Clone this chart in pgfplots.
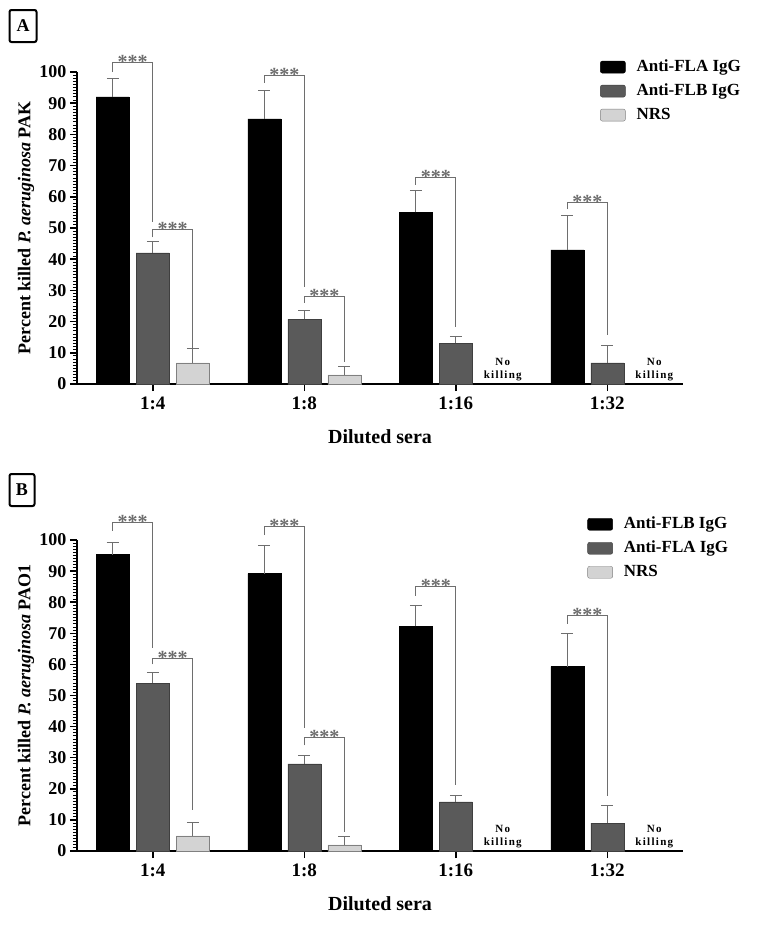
\documentclass[border=0pt]{standalone}
\usepackage{pgfplots}
\pgfplotsset{compat=1.18}
\usepackage{fontspec}
\setmainfont{Liberation Serif}

\definecolor{dkgray}{HTML}{5A5A5A}
\definecolor{ltgray}{HTML}{D3D3D3}
\definecolor{brk}{HTML}{6E6E6E}

\newcommand{\fs}[1]{\fontsize{#1}{#1}\selectfont\bfseries}

% bracket: x, left shift, right shift, left leg end, top, right leg end, mid shift
\newcommand{\sigbr}[7]{%
  \draw[brk, line width=1pt] ([xshift=#2]axis cs:#1,#4) -- ([xshift=#2]axis cs:#1,#5)
     -- ([xshift=#3]axis cs:#1,#5) -- ([xshift=#3]axis cs:#1,#6);
  \node[brk, font=\fs{20}, anchor=base, inner sep=0pt] at ([xshift=#7, yshift=-6pt]axis cs:#1,#5) {***};
}
\newcommand{\nokill}[1]{%
  \node[font=\fontsize{11}{13}\selectfont\bfseries\addfontfeatures{LetterSpace=12}, align=center,
        anchor=south, inner sep=0pt] at ([xshift=47pt, yshift=3pt]axis cs:#1,0) {No\\killing};
}

\pgfplotsset{
  sw/.style={legend image code/.code={\draw[##1, rounded corners=2pt] (0pt,-6pt) rectangle (25pt,6pt);}},
  killplot/.style={
    scale only axis, width=606pt, height=312pt,
    ybar=7pt, bar width=33pt,
    xmin=-0.5, xmax=3.5, ymin=0, ymax=100,
    axis lines=left, axis line style={line width=1.6pt,-},
    xtick={0,1,2,3}, xticklabels={1:4,1:8,1:16,1:32},
    ytick={0,10,...,100}, minor y tick num=9,
    tick align=outside, major tick length=7pt, minor tick length=4pt,
    every major tick/.append style={line width=1.5pt, black},
    every minor tick/.append style={line width=1pt, black},
    x tick label style={font=\fs{19}, yshift=-2pt},
    y tick label style={font=\fs{18}},
    /pgf/number format/assume math mode=true,
    xlabel={Diluted sera},
    xlabel style={font=\fs{20}, at={(axis description cs:0.5,-0.17)}, anchor=center},
    ylabel style={font=\fs{18}, at={(axis description cs:-0.084,0.5)}, anchor=center},
    clip=false,
    legend style={draw=none, fill=none, font=\fs{17}, anchor=north west,
      row sep=8pt, column sep=11pt, inner sep=0pt,
      nodes={inner sep=0pt, text height=12pt, text depth=4pt}},
    legend cell align=left,
    error bars/y dir=plus, error bars/y explicit,
    error bars/error bar style={line width=1pt, brk},
    error bars/error mark options={rotate=90, mark size=6pt, line width=1pt, brk},
  },
}

\begin{document}
\begin{tikzpicture}
\useasboundingbox (0,0) rectangle (760pt,-927pt);

\node[draw, line width=2pt, rounded corners=2pt, minimum width=27pt, minimum height=32pt,
      inner sep=0pt, font=\fs{18}] at (23pt,-26pt) {A};
\node[draw, line width=2pt, rounded corners=2pt, minimum width=25pt, minimum height=32pt,
      inner sep=0pt, font=\fs{18}] at (22pt,-490pt) {B};

% Panel A
\begin{axis}[killplot, at={(77pt,-384pt)}, anchor=south west,
  ylabel={Percent killed \textit{P. aeruginosa} PAK},
  legend style={at={(axis description cs:0.863,1.042)}}]
\addplot[sw, fill=black, draw=black] coordinates {
  (0,92) +- (0,6) (1,85) +- (0,9) (2,55) +- (0,7) (3,43) +- (0,11)};
\addlegendentry{Anti-FLA IgG}
\addplot[sw, fill=dkgray, draw=dkgray!70!black] coordinates {
  (0,42) +- (0,3.7) (1,20.7) +- (0,2.8) (2,13) +- (0,2.1) (3,6.8) +- (0,5.5)};
\addlegendentry{Anti-FLB IgG}
\addplot[sw, fill=ltgray, draw=gray] coordinates {
  (0,6.8) +- (0,4.5) (1,2.9) +- (0,2.7)};
\addlegendentry{NRS}
\sigbr{0}{-40pt}{0pt}{100}{103}{52}{-20pt}
\sigbr{0}{0pt}{40pt}{47}{49.4}{11.5}{20pt}
\sigbr{1}{-40pt}{0pt}{96.5}{99}{31}{-20pt}
\sigbr{1}{0pt}{40pt}{26}{28.2}{7}{20pt}
\sigbr{2}{-40pt}{0pt}{63.8}{66.3}{18.3}{-20pt}
\sigbr{3}{-40pt}{0pt}{56}{58.3}{15.7}{-20pt}
\nokill{2}
\nokill{3}
\end{axis}

% Panel B
\begin{axis}[killplot, at={(77pt,-851pt)}, anchor=south west, height=311pt,
  ylabel={Percent killed \textit{P. aeruginosa} PAO1},
  legend style={at={(axis description cs:0.842,1.077)}}]
\addplot[sw, fill=black, draw=black] coordinates {
  (0,95.3) +- (0,4) (1,89.2) +- (0,9) (2,72.2) +- (0,6.8) (3,59.3) +- (0,10.7)};
\addlegendentry{Anti-FLB IgG}
\addplot[sw, fill=dkgray, draw=dkgray!70!black] coordinates {
  (0,54) +- (0,3.5) (1,28) +- (0,2.6) (2,15.8) +- (0,2.2) (3,9) +- (0,5.5)};
\addlegendentry{Anti-FLA IgG}
\addplot[sw, fill=ltgray, draw=gray] coordinates {
  (0,4.9) +- (0,4.4) (1,2) +- (0,2.7)};
\addlegendentry{NRS}
\sigbr{0}{-40pt}{0pt}{103}{105.5}{65.3}{-20pt}
\sigbr{0}{0pt}{40pt}{60}{62}{13.2}{20pt}
\sigbr{1}{-40pt}{0pt}{101.6}{104.2}{39.5}{-20pt}
\sigbr{1}{0pt}{40pt}{34}{36.6}{6}{20pt}
\sigbr{2}{-40pt}{0pt}{82}{85}{21.2}{-20pt}
\sigbr{3}{-40pt}{0pt}{73}{75.6}{17.7}{-20pt}
\nokill{2}
\nokill{3}
\end{axis}
\end{tikzpicture}
\end{document}
